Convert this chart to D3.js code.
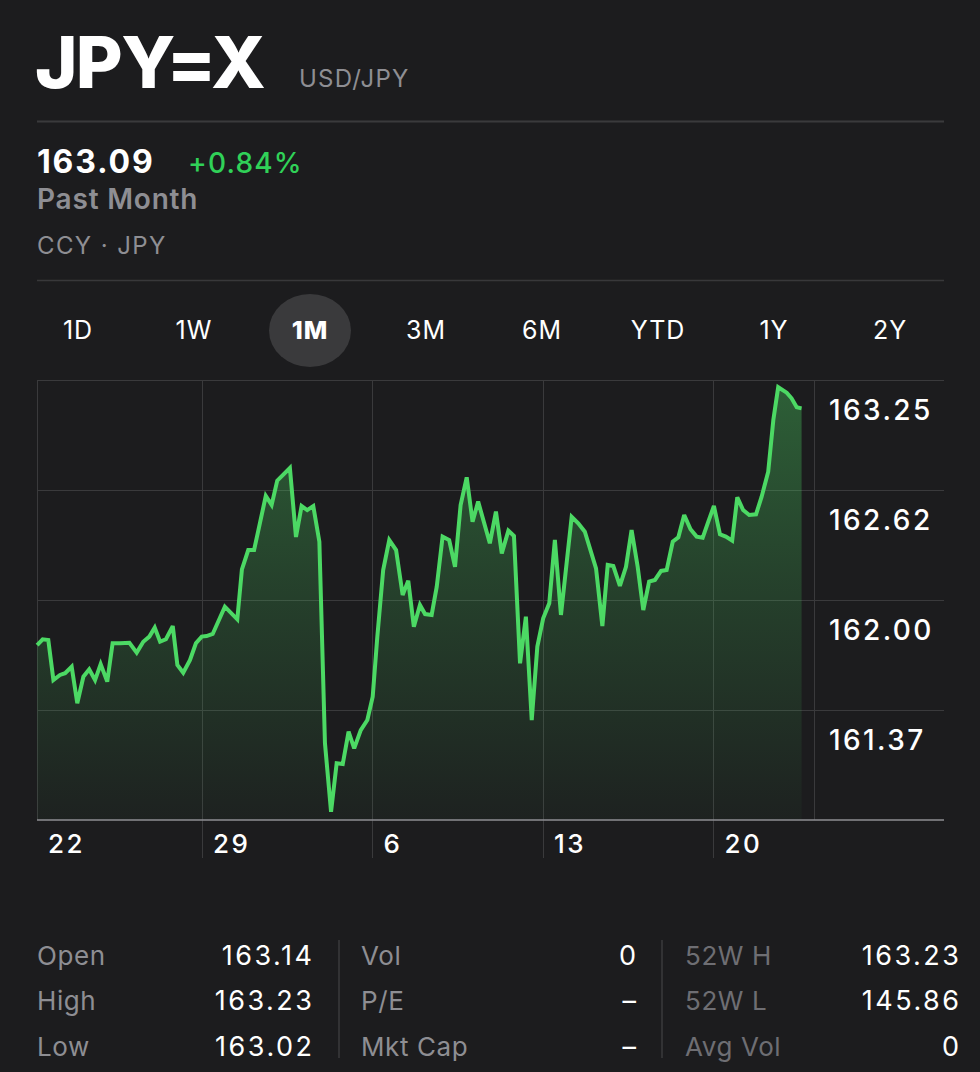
<!DOCTYPE html>
<html>
<head>
<meta charset="utf-8">
<script src="https://cdn.jsdelivr.net/npm/d3@7"></script>
<style>
  html, body { margin: 0; padding: 0; background: #1c1c1e; }
  svg { display: block; }
  text { font-family: Inter, "Noto Sans", Roboto, sans-serif; }
</style>
</head>
<body>
<svg id="chart" width="980" height="1072"></svg>
<script>
// ---------- data ----------
const symbol = "JPY=X";
const pairName = "USD/JPY";
const lastPrice = "163.09";
const changePct = "+0.84%";
const periodLabel = "Past Month";
const exchangeLabel = "CCY · JPY";
const ranges = ["1D", "1W", "1M", "3M", "6M", "YTD", "1Y", "2Y"];
const activeRange = "1M";

// day offsets from the 22nd (x position in time) and USD/JPY prices
const days = [0.23,0.46,0.69,0.90,1.17,1.38,1.65,1.88,2.13,2.37,2.61,2.84,3.11,3.33,3.63,4.02,4.32,4.59,4.84,5.06,
  5.28,5.52,5.80,5.99,6.23,6.51,6.75,6.99,7.19,7.44,7.94,8.45,8.64,8.90,9.14,9.62,9.86,10.09,10.61,10.86,
  11.09,11.32,11.57,11.82,12.05,12.30,12.53,12.78,13.02,13.25,13.52,13.79,14.01,14.20,14.44,14.69,14.97,15.24,15.47,15.70,
  15.95,16.16,16.43,16.64,16.88,17.15,17.39,17.62,17.87,18.11,18.34,18.82,19.07,19.31,19.58,19.81,20.06,20.30,20.54,20.77,
  21.01,21.26,21.49,21.74,22.18,22.45,22.72,23.18,23.44,23.66,23.89,24.16,24.41,24.64,24.89,25.12,25.36,25.60,25.85,26.08,
  26.33,26.56,26.80,27.06,27.31,27.56,27.79,28.02,28.27,28.51,28.77,28.98,29.22,29.47,29.75,29.98,30.25,30.46,30.66,31.01,
  31.21,31.42,31.62];
const prices = [161.744,161.777,161.773,161.545,161.574,161.584,161.621,161.413,161.564,161.606,161.545,161.636,161.536,161.754,161.754,161.757,161.701,161.763,161.792,161.843,
  161.763,161.777,161.852,161.631,161.587,161.659,161.754,161.792,161.795,161.807,161.962,161.890,162.174,162.284,162.284,162.591,162.540,162.678,162.750,162.358,
  162.534,162.511,162.534,162.331,161.186,160.797,161.072,161.068,161.252,161.157,161.261,161.318,161.451,161.792,162.170,162.341,162.284,162.028,162.110,161.848,
  161.972,161.920,161.915,162.076,162.360,162.341,162.189,162.540,162.697,162.445,162.559,162.322,162.502,162.265,162.394,162.364,161.640,161.905,161.318,161.735,
  161.896,161.981,162.341,161.915,162.473,162.436,162.388,162.180,161.852,162.199,162.193,162.080,162.189,162.398,162.189,161.943,162.104,162.114,162.165,162.170,
  162.331,162.356,162.483,162.402,162.360,162.354,162.445,162.534,162.373,162.360,162.337,162.584,162.511,162.483,162.487,162.587,162.729,163.023,163.209,163.178,
  163.146,163.095,163.089];

const xTickDays = [0, 7, 14, 21, 28];
const xTickLabels = ["22", "29", "6", "13", "20"];
const yTickValues = [163.25, 162.625, 162.00, 161.375];
const yTickLabels = ["163.25", "162.62", "162.00", "161.37"];

const statCols = [
  { labels: ["Open", "High", "Low"], values: ["163.14", "163.23", "163.02"] },
  { labels: ["Vol", "P/E", "Mkt Cap"], values: ["0", "–", "–"] },
  { labels: ["52W H", "52W L", "Avg Vol"], values: ["163.23", "145.86", "0"] }
];

// ---------- layout ----------
const W = 980, H = 1072;
const plot = { left: 37, right: 814, top: 380, bottom: 820, gridRight: 944 };
const bg = "#1c1c1e";
const green = "#4cd964";
const gray = "#8e8e93";

const svg = d3.select("#chart");
svg.append("rect").attr("width", W).attr("height", H).attr("fill", bg);

// ---------- header ----------
svg.append("text").attr("x", 35).attr("y", 88).attr("fill", "#fff")
  .attr("font-size", 72).attr("font-weight", 800).attr("letter-spacing", -1.6).text(symbol);
svg.append("text").attr("x", 299).attr("y", 87).attr("fill", gray)
  .attr("font-size", 24).attr("font-weight", 400).attr("letter-spacing", 1.2).text(pairName);
svg.append("line").attr("x1", 37).attr("x2", 944).attr("y1", 121.5).attr("y2", 121.5)
  .attr("stroke", "#3a3a3c").attr("stroke-width", 2);
svg.append("text").attr("x", 37).attr("y", 173).attr("fill", "#fff")
  .attr("font-size", 32).attr("font-weight", 700).attr("letter-spacing", 1.8).text(lastPrice);
svg.append("text").attr("x", 188).attr("y", 173).attr("fill", "#30d158")
  .attr("font-size", 28).attr("font-weight", 500).attr("letter-spacing", 1.2).text(changePct);
svg.append("text").attr("x", 37).attr("y", 209).attr("fill", gray)
  .attr("font-size", 28).attr("font-weight", 600).attr("letter-spacing", 0.8).text(periodLabel);
svg.append("text").attr("x", 37).attr("y", 254).attr("fill", gray)
  .attr("font-size", 24).attr("font-weight", 400).attr("letter-spacing", 1.4).text(exchangeLabel);
svg.append("line").attr("x1", 37).attr("x2", 944).attr("y1", 280.5).attr("y2", 280.5)
  .attr("stroke", "#38383a").attr("stroke-width", 1.5);

// range selector
const rangeX = d3.scalePoint().domain(ranges).range([78, 890]);
const activeX = rangeX(activeRange);
svg.append("rect").attr("x", activeX - 41).attr("y", 294).attr("width", 82).attr("height", 73)
  .attr("rx", 41).attr("ry", 36.5).attr("fill", "#3a3a3c");
svg.append("g").selectAll("text").data(ranges).join("text")
  .attr("x", d => rangeX(d)).attr("y", 339).attr("text-anchor", "middle")
  .attr("fill", "#fff").attr("font-size", 25).attr("letter-spacing", 1)
  .attr("font-weight", d => d === activeRange ? 800 : 400)
  .text(d => d);

// ---------- chart ----------
const dayAtLeft = 0.226, dayAtRight = 32.13;
const x = d3.scaleLinear().domain([dayAtLeft, dayAtRight]).range([plot.left, plot.right]);
const y = d3.scaleLinear().domain([160.75, 163.25]).range([plot.bottom, plot.top]);

const defs = svg.append("defs");
const grad = defs.append("linearGradient").attr("id", "fillGrad")
  .attr("gradientUnits", "userSpaceOnUse")
  .attr("x1", 0).attr("x2", 0).attr("y1", plot.top).attr("y2", plot.bottom);
grad.append("stop").attr("offset", "0%").attr("stop-color", green).attr("stop-opacity", 0.36);
grad.append("stop").attr("offset", "45%").attr("stop-color", green).attr("stop-opacity", 0.2);
grad.append("stop").attr("offset", "100%").attr("stop-color", green).attr("stop-opacity", 0.03);

const grid = svg.append("g");
grid.selectAll("line.h").data(yTickValues).join("line").attr("class", "h")
  .attr("x1", plot.left).attr("x2", plot.gridRight)
  .attr("y1", d => Math.round(y(d)) + 0.5).attr("y2", d => Math.round(y(d)) + 0.5)
  .attr("stroke", "#3a3a3c").attr("stroke-width", 1);
grid.append("line").attr("x1", plot.left + 0.5).attr("x2", plot.left + 0.5)
  .attr("y1", plot.top).attr("y2", plot.bottom).attr("stroke", "#3a3a3c");
grid.append("line").attr("x1", plot.right + 0.5).attr("x2", plot.right + 0.5)
  .attr("y1", plot.top).attr("y2", plot.bottom).attr("stroke", "#3a3a3c");
grid.selectAll("line.v").data(xTickDays.filter(d => x(d) > plot.left + 2)).join("line").attr("class", "v")
  .attr("x1", d => Math.round(x(d)) + 0.5).attr("x2", d => Math.round(x(d)) + 0.5)
  .attr("y1", plot.top).attr("y2", 858)
  .attr("stroke", "#3a3a3c").attr("stroke-width", 1);

const area = d3.area().x((d, i) => x(days[i])).y0(plot.bottom).y1(d => y(d));
const line = d3.line().x((d, i) => x(days[i])).y(d => y(d));

svg.append("path").datum(prices).attr("d", area).attr("fill", "url(#fillGrad)");
svg.append("path").datum(prices).attr("d", line).attr("fill", "none")
  .attr("stroke", green).attr("stroke-width", 4).attr("stroke-linejoin", "miter")
  .attr("stroke-miterlimit", 3);

svg.append("line").attr("x1", plot.left).attr("x2", plot.gridRight)
  .attr("y1", plot.bottom).attr("y2", plot.bottom)
  .attr("stroke", "#8e8e93").attr("stroke-width", 1.5);

svg.append("g").selectAll("text").data(xTickDays).join("text")
  .attr("x", d => Math.max(x(d), plot.left) + 11).attr("y", 853)
  .attr("fill", "#fff").attr("font-size", 26).attr("font-weight", 500).attr("letter-spacing", 2.5)
  .text((d, i) => xTickLabels[i]);

svg.append("g").selectAll("text").data(yTickValues).join("text")
  .attr("x", 829).attr("y", d => y(d) + 40)
  .attr("fill", "#fff").attr("font-size", 28).attr("font-weight", 500).attr("letter-spacing", 2.4)
  .text((d, i) => yTickLabels[i]);

// ---------- stats table ----------
const colLabelX = [37, 361, 685];
const colValueX = [312, 636, 959];
const rowY = [965, 1010, 1056];
const stats = svg.append("g");
statCols.forEach((col, c) => {
  col.labels.forEach((lab, r) => {
    stats.append("text").attr("x", colLabelX[c]).attr("y", rowY[r])
      .attr("fill", c === 2 ? "#6e6e73" : gray).attr("font-size", 26).attr("letter-spacing", 0.6).text(lab);
    stats.append("text").attr("x", colValueX[c] + 2.5).attr("y", rowY[r]).attr("text-anchor", "end")
      .attr("fill", "#fff").attr("font-size", 27).attr("letter-spacing", 2.5).text(col.values[r]);
  });
});
[339, 662].forEach(dx => {
  stats.append("line").attr("x1", dx).attr("x2", dx).attr("y1", 940).attr("y2", 1058)
    .attr("stroke", "#3a3a3c").attr("stroke-width", 1.5);
});
</script>
</body>
</html>
